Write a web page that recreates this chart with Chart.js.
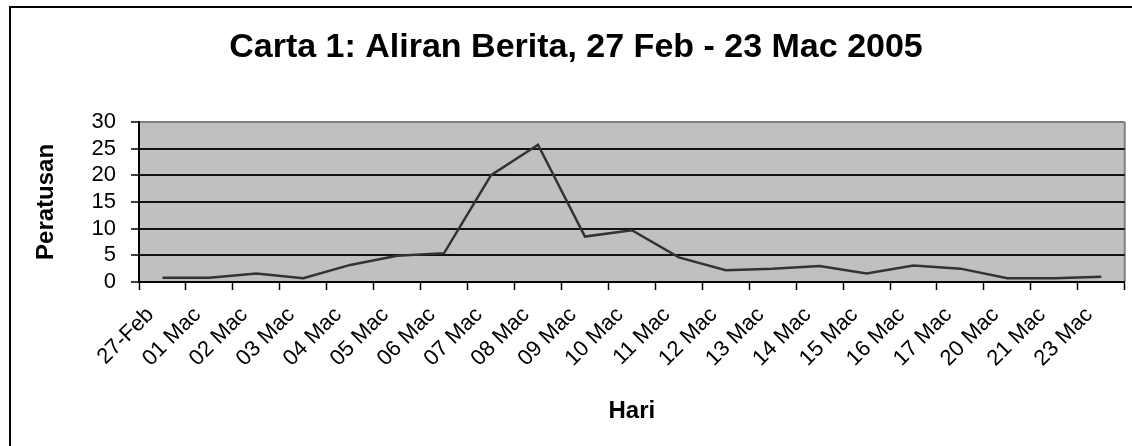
<!DOCTYPE html>
<html>
<head>
<meta charset="utf-8">
<script src="https://cdn.jsdelivr.net/npm/chart.js@4"></script>
<style>
  body { margin: 0; background: #fff; }
  #wrap { width: 1132px; height: 446px; position: relative; }
</style>
</head>
<body>
<div id="wrap"><canvas id="chart"></canvas></div>
<script>
// Data
const days = ['27-Feb', '01 Mac', '02 Mac', '03 Mac', '04 Mac', '05 Mac', '06 Mac', '07 Mac', '08 Mac', '09 Mac', '10 Mac',
              '11 Mac', '12 Mac', '13 Mac', '14 Mac', '15 Mac', '16 Mac', '17 Mac', '20 Mac', '21 Mac', '23 Mac'];
const percents = [0.8, 0.8, 1.6, 0.7, 3.2, 4.9, 5.4, 20, 25.7, 8.5, 9.7, 4.6, 2.2, 2.5, 3.0, 1.6, 3.1, 2.5, 0.7, 0.7, 1.0];
const yTicks = [0, 5, 10, 15, 20, 25, 30];

const FONT = "'Liberation Sans', Arial, sans-serif";

// Outer frame + grey plot background (Excel look)
const excelBackground = {
    id: 'excelBackground',
    beforeDraw(chart) {
        const { ctx, chartArea: a } = chart;
        ctx.save();
        ctx.fillStyle = '#fff';
        ctx.fillRect(0, 0, chart.width, chart.height);
        ctx.strokeStyle = '#000';
        ctx.lineWidth = 2;
        ctx.strokeRect(10, 7, 2000, 2000);
        ctx.fillStyle = '#c0c0c0';
        ctx.fillRect(a.left, a.top, a.right - a.left, a.bottom - a.top);
        ctx.strokeStyle = '#808080';
        ctx.beginPath();
        ctx.moveTo(a.right, a.top);
        ctx.lineTo(a.right, a.bottom);
        ctx.stroke();
        ctx.restore();
    }
};

new Chart(document.getElementById('chart'), {
    type: 'line',
    data: {
        labels: days,
        datasets: [{
            data: percents,
            borderColor: '#333333',
            borderWidth: 2.5,
            pointRadius: 0,
            tension: 0
        }]
    },
    options: {
        responsive: true,
        maintainAspectRatio: false,
        animation: false,
        layout: { padding: { left: 22, right: 2, top: 0, bottom: 0 } },
        plugins: {
            legend: { display: false },
            tooltip: { enabled: false },
            title: {
                display: true,
                text: 'Carta 1: Aliran Berita, 27 Feb - 23 Mac 2005',
                color: '#000',
                font: { family: FONT, size: 34, weight: 'bold' },
                padding: { top: 27, bottom: 54 }
            }
        },
        scales: {
            x: {
                offset: true,
                grid: {
                    offset: true,
                    drawOnChartArea: false,
                    tickLength: 8,
                    tickColor: '#000',
                    tickWidth: 1.5
                },
                border: { color: '#000', width: 2 },
                ticks: {
                    color: '#000',
                    font: { family: FONT, size: 22 },
                    minRotation: 45,
                    maxRotation: 45,
                    autoSkip: false,
                    labelOffset: -12,
                    padding: 12
                },
                title: {
                    display: true,
                    text: 'Hari',
                    color: '#000',
                    font: { family: FONT, size: 24, weight: 'bold' },
                    padding: { top: 0, bottom: 20 }
                },
                afterFit(scale) { scale.height = 164; }
            },
            y: {
                min: 0,
                max: 30,
                afterBuildTicks(scale) { scale.ticks = yTicks.map(v => ({ value: v })); },
                grid: {
                    color: (c) => (c.tick && c.tick.value === 30) ? '#808080' : '#111',
                    lineWidth: 2,
                    tickLength: 8,
                    tickColor: '#000',
                    tickWidth: 1.5
                },
                border: { color: '#000', width: 2 },
                ticks: {
                    color: '#000',
                    font: { family: FONT, size: 22 },
                    autoSkip: false,
                    padding: 15
                },
                title: {
                    display: true,
                    text: 'Peratusan',
                    color: '#000',
                    font: { family: FONT, size: 24, weight: 'bold' },
                    padding: { top: 10, bottom: 0 }
                },
                afterFit(scale) { scale.width = 117; }
            }
        }
    },
    plugins: [excelBackground]
});
</script>
</body>
</html>
